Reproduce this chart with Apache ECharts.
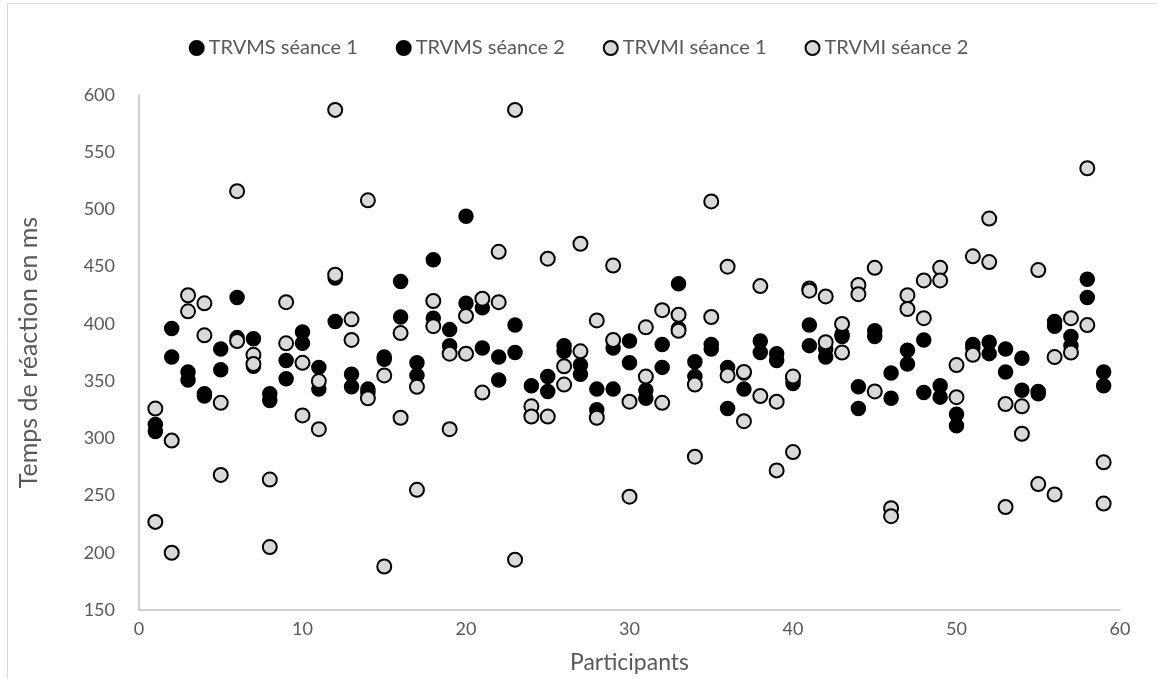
<!DOCTYPE html>
<html>
<head>
<meta charset="utf-8">
<script src="https://cdn.jsdelivr.net/npm/echarts@6/dist/echarts.min.js"></script>
<style>html,body{margin:0;padding:0;background:#fff}#c{width:1157px;height:679px}</style>
</head>
<body>
<div id="c"></div>
<script>
const participants = [1,2,3,4,5,6,7,8,9,10,11,12,13,14,15,16,17,18,19,20,21,22,23,24,25,26,27,28,29,30,31,32,33,34,35,36,37,38,39,40,41,42,43,44,45,46,47,48,49,50,51,52,53,54,55,56,57,58,59];
const trvmsS1 = [312,396,358,339,378,423,387,339,368,393,362,402,356,343,371,437,366,456,395,494,414,371,399,346,354,381,364,343,379,385,342,382,435,367,382,362,343,385,374,348,399,378,391,345,394,357,377,386,346,321,382,384,378,370,341,402,389,439,358];
const trvmsS2 = [306,371,351,337,360,388,363,333,352,383,343,440,345,340,369,406,355,405,381,418,379,351,375,320,341,376,356,325,343,366,335,362,396,354,378,326,357,375,368,352,381,371,389,326,389,335,365,340,336,311,379,374,358,342,339,398,381,423,346];
const trvmiS1 = [326,298,425,418,331,516,373,264,419,366,350,587,404,508,355,392,345,420,374,407,422,463,587,328,457,363,470,403,451,332,397,412,408,347,507,450,358,433,332,354,431,424,400,434,449,239,425,438,449,364,459,492,330,328,447,371,405,536,279];
const trvmiS2 = [227,200,411,390,268,385,365,205,383,320,308,443,386,335,188,318,255,398,308,374,340,419,194,319,319,347,376,318,386,249,354,331,394,284,406,355,315,337,272,288,429,384,375,426,341,232,413,405,438,336,373,454,240,304,260,251,375,399,243];
const seriesNames = ['TRVMS séance 1','TRVMS séance 2','TRVMI séance 1','TRVMI séance 2'];
const xTicks = [0,10,20,30,40,50,60];
const yTicks = [150,200,250,300,350,400,450,500,550,600];

const pairs = v => participants.map((p,i)=>[p,v[i]]);
const font = 'Lato, "Open Sans", sans-serif';
const blackStyle = {color:'#000000', borderColor:'#000000', borderWidth:1.5, opacity:1};
const greyStyle = {color:'#d9d9d9', borderColor:'#000000', borderWidth:2, opacity:1};
const dataSets = [trvmsS1,trvmsS2,trvmiS1,trvmiS2];

const chart = echarts.init(document.getElementById('c'), null, {renderer:'canvas'});
chart.setOption({
  animation:false,
  backgroundColor:'#ffffff',
  textStyle:{fontFamily:font},
  graphic:[
    {type:'line', shape:{x1:7.5,y1:3.5,x2:1157,y2:3.5}, style:{stroke:'#d9d9d9',lineWidth:1}},
    {type:'line', shape:{x1:7.5,y1:3.5,x2:7.5,y2:679}, style:{stroke:'#d9d9d9',lineWidth:1}}
  ],
  legend:{
    top:33, left:'center', itemGap:38, itemWidth:14, itemHeight:14,
    textStyle:{fontFamily:font, fontSize:20, color:'#595959'},
    data:seriesNames
  },
  grid:{left:139, right:37, top:95, bottom:64},
  xAxis:{
    type:'value', min:xTicks[0], max:xTicks[xTicks.length-1], interval:10,
    name:'Participants', nameLocation:'middle', nameGap:41,
    nameTextStyle:{fontFamily:font, fontSize:23, color:'#595959'},
    axisLine:{show:true, onZero:false, lineStyle:{color:'#bfbfbf', width:1.5}},
    axisTick:{show:false}, splitLine:{show:false},
    axisLabel:{fontFamily:font, fontSize:18, color:'#595959', margin:10}
  },
  yAxis:{
    type:'value', min:yTicks[0], max:yTicks[yTicks.length-1], interval:50,
    name:'Temps de réaction en ms', nameLocation:'middle', nameGap:98, nameRotate:90,
    nameTextStyle:{fontFamily:font, fontSize:25, color:'#595959'},
    axisLine:{show:true, lineStyle:{color:'#bfbfbf', width:1.5}},
    axisTick:{show:false}, splitLine:{show:false},
    axisLabel:{fontFamily:font, fontSize:18, color:'#595959', margin:24}
  },
  series: seriesNames.map((n,k)=>({
    name:n, type:'scatter', symbol:'circle', symbolSize:14,
    itemStyle: k<2 ? blackStyle : greyStyle,
    data: pairs(dataSets[k])
  }))
});
</script>
</body>
</html>
